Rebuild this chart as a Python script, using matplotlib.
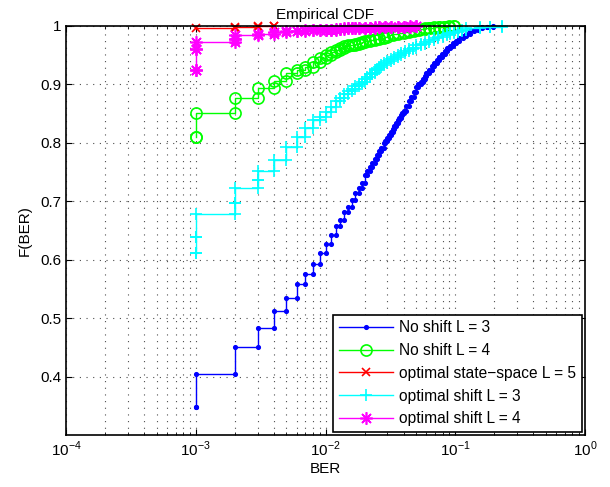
import numpy as np
import matplotlib
matplotlib.use('Agg')
import matplotlib.pyplot as plt

plt.rcParams['font.family'] = ['Liberation Sans', 'DejaVu Sans']
plt.rcParams['mathtext.fontset'] = 'custom'
plt.rcParams['mathtext.rm'] = 'Liberation Sans'

# empirical CDF steps: BER where F jumps, and F after the jump
blue_ber = [0.001, 0.001, 0.002, 0.003, 0.004, 0.005, 0.006, 0.007, 0.008, 0.009, 0.010,
            0.011, 0.012, 0.013, 0.014, 0.015, 0.016, 0.017, 0.018, 0.019, 0.020,
            0.021, 0.022, 0.023, 0.024, 0.025, 0.026, 0.027, 0.028, 0.029, 0.030,
            0.031, 0.032, 0.033, 0.034, 0.035, 0.036, 0.037, 0.038, 0.039, 0.040,
            0.042, 0.044, 0.046, 0.048, 0.050, 0.052, 0.054, 0.056, 0.058, 0.060,
            0.063, 0.066, 0.069, 0.072, 0.075, 0.079, 0.083, 0.087, 0.091, 0.096,
            0.101, 0.107, 0.114, 0.122, 0.130, 0.140, 0.150, 0.162, 0.175, 0.195]
blue_F = [0.348, 0.404, 0.450, 0.483, 0.513, 0.535, 0.558, 0.576, 0.593, 0.611, 0.627,
          0.642, 0.657, 0.668, 0.681, 0.691, 0.702, 0.714, 0.722, 0.731, 0.745,
          0.751, 0.758, 0.765, 0.772, 0.779, 0.786, 0.792, 0.799, 0.804, 0.809,
          0.814, 0.819, 0.824, 0.829, 0.834, 0.839, 0.843, 0.847, 0.851, 0.855,
          0.863, 0.871, 0.879, 0.887, 0.895, 0.900, 0.905, 0.910, 0.915, 0.919,
          0.925, 0.931, 0.937, 0.942, 0.947, 0.952, 0.957, 0.962, 0.966, 0.971,
          0.975, 0.979, 0.983, 0.987, 0.991, 0.994, 0.996, 0.998, 0.999, 1.0]

green_ber = [0.001, 0.001, 0.002, 0.003, 0.004, 0.005, 0.006, 0.007, 0.008, 0.009, 0.010,
             0.011, 0.012, 0.013, 0.014, 0.015, 0.016, 0.017, 0.018, 0.019, 0.020,
             0.022, 0.024, 0.026, 0.028, 0.030, 0.033, 0.036, 0.040, 0.044, 0.048,
             0.053, 0.058, 0.063, 0.068, 0.075, 0.082, 0.090, 0.097]
green_F = [0.8105, 0.8516, 0.8773, 0.8933, 0.9064, 0.919, 0.925, 0.930, 0.939, 0.945, 0.950,
           0.955, 0.959, 0.962, 0.965, 0.967, 0.968, 0.970, 0.971, 0.973, 0.974,
           0.976, 0.978, 0.980, 0.982, 0.984, 0.986, 0.988, 0.990, 0.992, 0.993,
           0.995, 0.996, 0.997, 0.998, 0.9985, 0.999, 0.9995, 1.0]

red_ber = [0.001, 0.002, 0.003, 0.004]
red_F = [0.9966, 0.9983, 0.9993, 1.0]

cyan_ber = [0.001, 0.001, 0.001, 0.002, 0.002, 0.003, 0.003, 0.004, 0.005, 0.006, 0.007,
            0.008, 0.009, 0.010, 0.011, 0.012, 0.013, 0.014, 0.015, 0.016, 0.017,
            0.018, 0.019, 0.020, 0.021, 0.022, 0.023, 0.024, 0.025, 0.026, 0.027,
            0.028, 0.030, 0.032, 0.034, 0.036, 0.038, 0.041, 0.044, 0.047, 0.050,
            0.054, 0.058, 0.063, 0.068, 0.074, 0.080, 0.086, 0.091, 0.098, 0.105,
            0.113, 0.122, 0.155, 0.185, 0.228]
cyan_F = [0.611, 0.639, 0.679, 0.697, 0.722, 0.736, 0.751, 0.771, 0.793, 0.810, 0.825,
          0.839, 0.845, 0.853, 0.862, 0.871, 0.877, 0.883, 0.888, 0.892, 0.897,
          0.901, 0.905, 0.909, 0.913, 0.917, 0.920, 0.924, 0.927, 0.930, 0.933,
          0.936, 0.940, 0.944, 0.947, 0.950, 0.953, 0.957, 0.960, 0.963, 0.967,
          0.970, 0.973, 0.976, 0.979, 0.982, 0.984, 0.986, 0.9875, 0.990, 0.992,
          0.994, 0.996, 0.998, 0.999, 1.0]

mag_ber = [0.001, 0.001, 0.001, 0.002, 0.002, 0.003, 0.004, 0.005, 0.006, 0.007, 0.008,
           0.009, 0.010, 0.011, 0.012, 0.013, 0.014, 0.015, 0.016, 0.017, 0.018,
           0.020, 0.022, 0.024, 0.026, 0.029, 0.032, 0.036, 0.040, 0.045, 0.050]
mag_F = [0.925, 0.960, 0.972, 0.978, 0.984, 0.987, 0.990, 0.991, 0.992, 0.993, 0.993,
         0.994, 0.994, 0.994, 0.995, 0.995, 0.996, 0.996, 0.996, 0.996, 0.997,
         0.997, 0.997, 0.998, 0.998, 0.998, 0.999, 0.999, 0.999, 0.9995, 1.0]

labels = ['No shift L = 3', 'No shift L = 4', 'optimal state\u2212space L = 5',
          'optimal shift L = 3', 'optimal shift L = 4']
y_ticks = [0.4, 0.5, 0.6, 0.7, 0.8, 0.9, 1.0]
y_ticklabels = ['0.4', '0.5', '0.6', '0.7', '0.8', '0.9', '1']


def stairs(ber, F):
    # matlab-like stairs: markers on both corners of every step
    x = np.repeat(ber, 2)[1:]
    y = np.repeat(F, 2)[:-1]
    return x, y


fig = plt.figure(figsize=(6.1, 4.87), dpi=100)
ax = fig.add_axes([66/610, 52/487, 519/610, 409/487])

styles = [
    (blue_ber, blue_F, dict(color='#0000ff', marker='.', ms=5)),
    (green_ber, green_F, dict(color='#00ff00', marker='o', ms=8, mfc='none')),
    (red_ber, red_F, dict(color='#ff0000', marker='x', ms=6)),
    (cyan_ber, cyan_F, dict(color='#00ffff', marker='+', ms=9)),
    (mag_ber, mag_F, dict(color='#ff00ff', marker=(8, 2, 0), ms=9)),
]
for (b, f, st), lab in zip(styles, labels):
    x, y = stairs(b, f)
    ax.plot(x, y, lw=1.0, mew=1.2, label=lab, clip_on=False, **st)

ax.set_xscale('log')
ax.set_xlim(1e-4, 1)
ax.set_ylim(0.3, 1)
ax.set_xticks([1e-4, 1e-3, 1e-2, 1e-1, 1])
ax.set_xticklabels([r'$10^{-4}$', r'$10^{-3}$', r'$10^{-2}$', r'$10^{-1}$', r'$10^{0}$'])
ax.set_yticks(y_ticks)
ax.set_yticklabels(y_ticklabels)

ax.grid(True, which='major', linestyle=(0, (1, 5)), color='0.3', lw=0.8)
ax.grid(True, which='minor', axis='x', linestyle=(0, (1, 5)), color='0.3', lw=0.8)
ax.tick_params(which='both', direction='in', top=True, right=True, labelsize=11)
ax.tick_params(which='major', length=4)
ax.tick_params(which='minor', length=2.5)
for s in ax.spines.values():
    s.set_linewidth(1.2)

ax.set_title('Empirical CDF', fontsize=11, pad=5)
ax.set_xlabel('BER', fontsize=11, labelpad=2)
ax.set_ylabel('F(BER)', fontsize=11, labelpad=6)

leg = ax.legend(loc='lower right', fontsize=11.2, fancybox=False, edgecolor='k',
                framealpha=1, borderaxespad=0.2, handlelength=3.5, labelspacing=0.5,
                borderpad=0.35, handletextpad=0.4)
leg.get_frame().set_linewidth(1.2)

fig.savefig('out.png', dpi=100)
